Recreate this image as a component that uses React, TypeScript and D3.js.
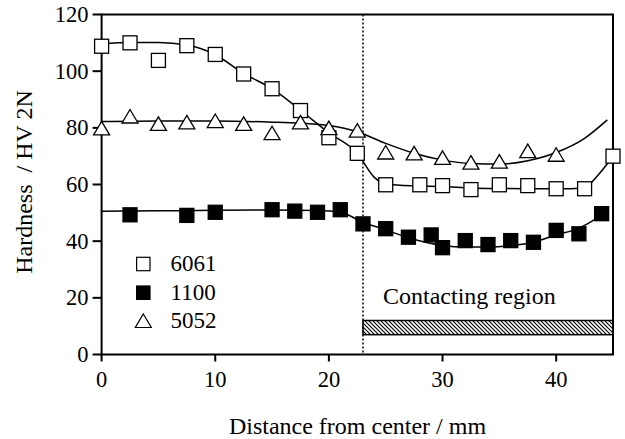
import React from 'react';
import * as d3 from 'd3';

// measured points
const x6061 = [0, 2.5, 5, 7.5, 10, 12.5, 15, 17.5, 20, 22.5, 25, 28, 30, 32.5, 35, 37.5, 40, 42.5, 45];
const y6061 = [108.8, 110, 103.8, 109, 105.9, 99, 93.8, 86.1, 76.5, 71, 59.9, 59.9, 59.6, 58.2, 59.9, 59.6, 58.5, 58.5, 70];

const x1100 = [2.5, 7.5, 10, 15, 17, 19, 21, 23, 25, 27, 29, 30, 32, 34, 36, 38, 40, 42, 44];
const y1100 = [49.3, 49.1, 50.2, 51.1, 50.6, 50.2, 51.1, 46.1, 44.4, 41.4, 42.2, 37.7, 40.2, 38.8, 40.2, 39.6, 43.8, 42.6, 49.7];

const x5052 = [0, 2.5, 5, 7.5, 10, 12.5, 15, 17.5, 20, 22.5, 25, 27.5, 30, 32.5, 35, 37.5, 40];
const y5052 = [79.8, 84, 81.4, 81.9, 82.4, 81.4, 78.1, 81.9, 79.9, 79, 71.3, 71, 69.4, 67.7, 68.1, 71.8, 70.5];

// fitted curves
const fitX6061 = [0, 2.5, 5, 7.5, 10, 12.5, 15, 17.5, 20, 22.5, 24, 25, 27.5, 30, 32.5, 35, 37.5, 40, 42.5, 43.5, 45];
const fitY6061 = [109.7, 110.1, 110.1, 109.2, 105.8, 99.2, 93.8, 86.2, 78.2, 71, 62.5, 60.2, 59.5, 59.3, 58.8, 58.6, 58.5, 58.5, 58.8, 62.5, 70];

const fitX1100 = [0, 5, 10, 15, 19, 21, 23, 25, 27, 30, 32, 34, 36, 38, 40, 42, 44, 44.6];
const fitY1100 = [50.6, 50.7, 50.9, 51, 50.8, 50.2, 46.7, 44, 41.2, 38.5, 37.9, 37.9, 38.4, 39.6, 42.2, 44.6, 49.6, 52];

const fitX5052 = [0, 5, 10, 15, 17.5, 20, 22.5, 25, 27.5, 30, 32.5, 35, 37.5, 40, 42.5, 44.5];
const fitY5052 = [82.2, 82.4, 82.4, 82, 81.6, 80.8, 78.6, 74.5, 71, 68.6, 67.4, 67.2, 68.4, 71.3, 76.3, 82.8];

const xTicks = [0, 10, 20, 30, 40];
const yTicks = [0, 20, 40, 60, 80, 100, 120];
const legendNames = ['6061', '1100', '5052'];

const contactStart = 23;
const barLow = 7;
const barHigh = 12;

const FONT = 'Liberation Serif';

const x = d3.scaleLinear().domain([0, 45]).range([101.6, 613]);
const y = d3.scaleLinear().domain([0, 120]).range([354.5, 14.5]);

const line = d3.line<[number, number]>()
    .x((d) => x(d[0]))
    .y((d) => y(d[1]))
    .curve(d3.curveMonotoneX);

const zip = (xs: number[], ys: number[]) => xs.map((v, i) => [v, ys[i]] as [number, number]);

const triPath = (cx: number, cy: number) =>
    `M${cx},${cy - 7} L${cx + 8},${cy + 6.5} L${cx - 8},${cy + 6.5} Z`;

const App = () => {
    const fits = [zip(fitX6061, fitY6061), zip(fitX1100, fitY1100), zip(fitX5052, fitY5052)];
    const legendY = [264, 292.7, 321];

    return (
        <svg
            width={625}
            height={439}
            style={{ position: 'absolute', left: 0, top: 0, background: '#fff' }}
        >
            <defs>
                <pattern id="hatch" patternUnits="userSpaceOnUse" width={4} height={4}>
                    <path d="M-1,-1 L5,5 M-1,3 L1,5 M3,-1 L5,1" stroke="#000" strokeWidth={1.1} />
                </pattern>
            </defs>

            {/* frame and axes */}
            <path
                d={`M${x(0)},${y(0)} V${y(120)} H${x(45)} V${y(0)} Z`}
                fill="none"
                stroke="#000"
                strokeWidth={2}
            />
            {yTicks.map((t) => (
                <g key={`y${t}`}>
                    <line x1={x(0) - 9} x2={x(0)} y1={y(t)} y2={y(t)} stroke="#000" strokeWidth={2} />
                    <text
                        x={x(0) - 13}
                        y={y(t)}
                        dy="0.34em"
                        textAnchor="end"
                        fontFamily={FONT}
                        fontSize={22.5}
                    >
                        {t}
                    </text>
                </g>
            ))}
            {xTicks.map((t) => (
                <g key={`x${t}`}>
                    <line x1={x(t)} x2={x(t)} y1={y(0)} y2={y(0) + 7} stroke="#000" strokeWidth={2} />
                    <text x={x(t)} y={387} textAnchor="middle" fontFamily={FONT} fontSize={22.5}>
                        {t}
                    </text>
                </g>
            ))}

            {/* contacting region */}
            <line
                x1={x(contactStart)}
                x2={x(contactStart)}
                y1={y(120)}
                y2={y(0)}
                stroke="#000"
                strokeWidth={1.5}
                strokeDasharray="2,2"
            />
            <rect
                x={x(contactStart)}
                y={y(barHigh)}
                width={x(45) - x(contactStart)}
                height={y(barLow) - y(barHigh)}
                fill="url(#hatch)"
                stroke="#000"
                strokeWidth={1.5}
            />
            <text x={383} y={304} fontFamily={FONT} fontSize={24}>
                Contacting region
            </text>

            {/* fitted curves */}
            {fits.map((f, i) => (
                <path key={`fit${i}`} d={line(f) || ''} fill="none" stroke="#000" strokeWidth={1.5} />
            ))}

            {/* markers */}
            {zip(x6061, y6061).map((d, i) => (
                <rect
                    key={`a${i}`}
                    x={x(d[0]) - 7}
                    y={y(d[1]) - 7}
                    width={14}
                    height={14}
                    fill="#fff"
                    stroke="#000"
                    strokeWidth={1.3}
                />
            ))}
            {zip(x1100, y1100).map((d, i) => (
                <rect
                    key={`b${i}`}
                    x={x(d[0]) - 7}
                    y={y(d[1]) - 7}
                    width={14}
                    height={14}
                    fill="#000"
                    stroke="#000"
                    strokeWidth={1.3}
                />
            ))}
            {zip(x5052, y5052).map((d, i) => (
                <path
                    key={`c${i}`}
                    d={triPath(x(d[0]), y(d[1]))}
                    fill="#fff"
                    stroke="#000"
                    strokeWidth={1.3}
                />
            ))}

            {/* legend */}
            {legendNames.map((name, i) => (
                <g key={name}>
                    {i < 2 ? (
                        <rect
                            x={143.3 - 6.7}
                            y={legendY[i] - 6.7}
                            width={13.4}
                            height={13.4}
                            fill={i === 1 ? '#000' : '#fff'}
                            stroke="#000"
                            strokeWidth={1.2}
                        />
                    ) : (
                        <path d={triPath(143.3, legendY[i])} fill="#fff" stroke="#000" strokeWidth={1.2} />
                    )}
                    <text x={170.5} y={legendY[i] + 7.2} fontFamily={FONT} fontSize={23}>
                        {name}
                    </text>
                </g>
            ))}

            {/* axis titles */}
            <text x={357.5} y={434} textAnchor="middle" fontFamily={FONT} fontSize={24}>
                Distance from center / mm
            </text>
            <text
                transform="translate(32,182) rotate(-90)"
                textAnchor="middle"
                fontFamily={FONT}
                fontSize={24}
                style={{ whiteSpace: 'pre' }}
            >
                {'Hardness  / HV 2N'}
            </text>
        </svg>
    );
};

export default App;
